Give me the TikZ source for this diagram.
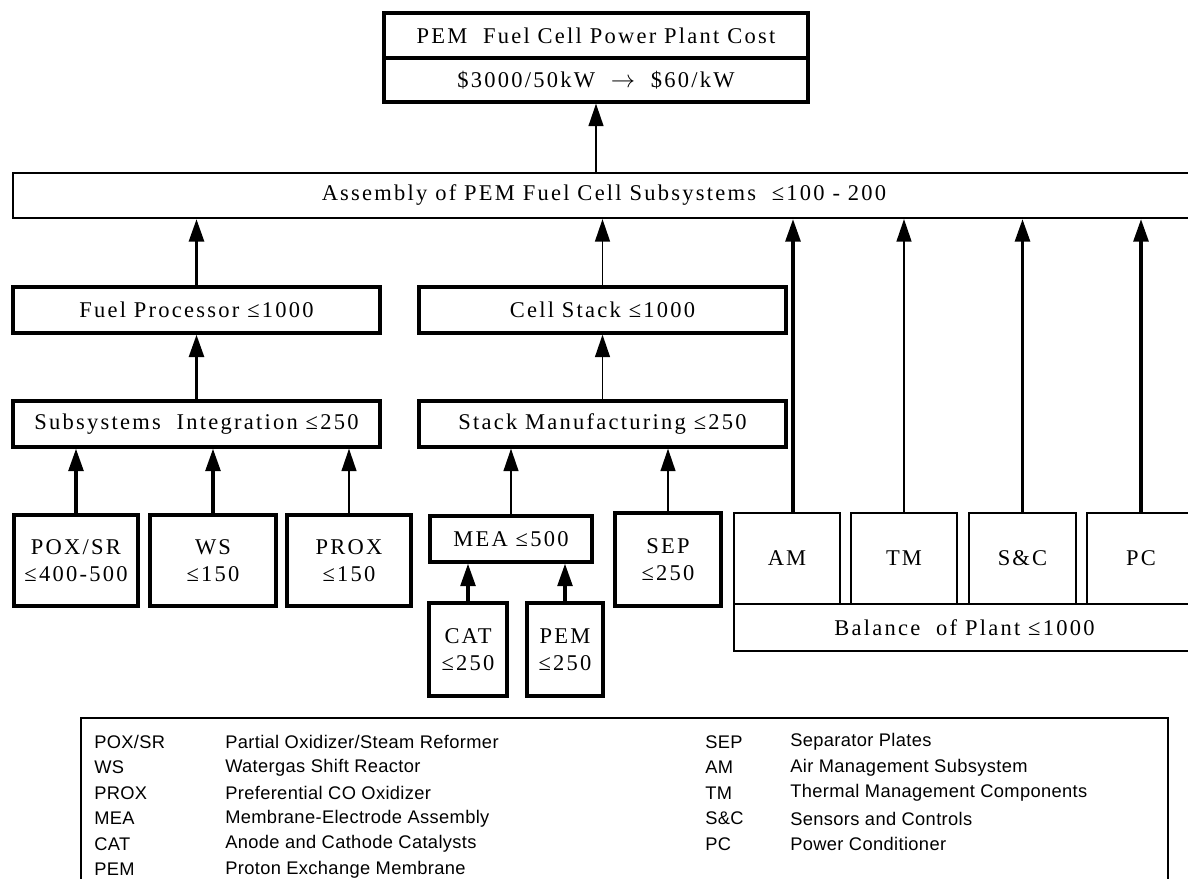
\documentclass[tikz,border=0pt]{standalone}
\usepackage{fontspec}
\setmainfont{Liberation Serif}[LetterSpace=10]
\newfontfamily\legendfont{Liberation Sans}[LetterSpace=2]
\usetikzlibrary{arrows.meta}

\begin{document}
\begin{tikzpicture}[x=0.025cm, y=-0.025cm,
	box/.style={draw, line width=2.3pt, inner sep=0pt, align=center, font=\fontsize{16}{19}\selectfont},
	thinbox/.style={box, line width=1.5pt},
	up/.style={-{Triangle[length=16pt, width=10.5pt]}, line width=2.4pt},
	thinup/.style={up, line width=1.4pt},
	legend/.style={anchor=west, inner sep=0pt, font=\legendfont\fontsize{13}{15}\selectfont}]
	\useasboundingbox (0,0) rectangle (1188,879);
	
	\node[box, minimum width=10.6cm, minimum height=1.125cm] (cost) at (596,35.5) {PEM\ \ Fuel Cell Power Plant Cost};
	\node[box, minimum width=10.6cm, minimum height=1.1cm] (costval) at (596,80) {\$3000/50kW\ \ $\rightarrow$\ \ \$60/kW};
	
	\node[thinbox, minimum width=29.55cm, minimum height=1.125cm] (asm) at (604,195.5) {Assembly of PEM Fuel Cell Subsystems\ \ ≤100 - 200};
	
	\node[box, minimum width=9.175cm, minimum height=1.15cm] (fp) at (196.5,310) {Fuel Processor ≤1000};
	\node[box, minimum width=9.175cm, minimum height=1.15cm] (cs) at (602.5,310) {Cell Stack ≤1000};
	\node[box, minimum width=9.175cm, minimum height=1.15cm] (si) at (196.5,424) {Subsystems\ \ Integration ≤250};
	\node[box, minimum width=9.175cm, minimum height=1.15cm] (sm) at (602.5,424) {Stack Manufacturing ≤250};
	
	\node[box, minimum width=3.1cm, minimum height=2.275cm] (pox) at (76,560.5) {POX/SR\\≤400-500};
	\node[box, minimum width=3.15cm, minimum height=2.275cm] (ws) at (213,560.5) {WS\\≤150};
	\node[box, minimum width=3.1cm, minimum height=2.275cm] (prox) at (349,560.5) {PROX\\≤150};
	\node[box, minimum width=4.05cm, minimum height=1.15cm] (mea) at (511,539) {MEA ≤500};
	\node[box, minimum width=2.65cm, minimum height=2.325cm] (sep) at (668,559.5) {SEP\\≤250};
	\node[box, minimum width=1.95cm, minimum height=2.325cm] (cat) at (468,649.5) {CAT\\≤250};
	\node[box, minimum width=1.9cm, minimum height=2.325cm] (pem) at (565,649.5) {PEM\\≤250};
	
	\node[thinbox, minimum width=2.65cm, minimum height=2.275cm] (am) at (787,558.5) {AM};
	\node[thinbox, minimum width=2.65cm, minimum height=2.275cm] (tm) at (904,558.5) {TM};
	\node[thinbox, minimum width=2.675cm, minimum height=2.275cm] (sc) at (1022.5,558.5) {S\&C};
	\node[thinbox, minimum width=2.7cm, minimum height=2.275cm] (pc) at (1141,558.5) {PC};
	\node[thinbox, minimum width=11.525cm, minimum height=1.175cm] (bop) at (964.5,627.5) {Balance\ \ of Plant ≤1000};
	
	\draw[thinup] (costval.south |- asm.north) -- (costval.south);
	\draw[up] (fp.north) -- (fp.north |- asm.south);
	\draw[thinup] (cs.north) -- (cs.north |- asm.south);
	\draw[up] (si.north) -- (fp.south);
	\draw[thinup] (sm.north) -- (cs.south);
	\draw[up] (pox.north) -- (pox.north |- si.south);
	\draw[up] (ws.north) -- (ws.north |- si.south);
	\draw[thinup] (prox.north) -- (prox.north |- si.south);
	\draw[thinup] (mea.north) -- (mea.north |- sm.south);
	\draw[thinup] (sep.north) -- (sep.north |- sm.south);
	\draw[up] (cat.north) -- (cat.north |- mea.south);
	\draw[up] (pem.north) -- (pem.north |- mea.south);
	\draw[up] ([xshift=0.15cm]am.north) -- ([xshift=0.15cm]am.north |- asm.south);
	\draw[thinup] (tm.north) -- (tm.north |- asm.south);
	\draw[up] (sc.north) -- (sc.north |- asm.south);
	\draw[up] (pc.north) -- (pc.north |- asm.south);
	
	% legend
	\draw[line width=1.8pt] (81,718) rectangle (1168,900);
	\foreach \y/\abbr/\desc [count=\i] in {742/{POX/SR}/{Partial Oxidizer/Steam Reformer}, 767.5/WS/Watergas Shift Reactor, 793/PROX/Preferential CO Oxidizer, 818.5/MEA/Membrane-Electrode Assembly, 844/CAT/Anode and Cathode Catalysts, 869.5/PEM/Proton Exchange Membrane}
	{
		\node[legend] (abbrL\i) at (94,\y) {\abbr};
		\node[legend] (descL\i) at (225,\y) {\desc};
	}
	\foreach \y/\abbr/\desc [count=\i] in {742/SEP/Separator Plates, 767.5/AM/Air Management Subsystem, 793/TM/Thermal Management Components, 818.5/S\&C/Sensors and Controls, 844/PC/Power Conditioner}
	{
		\node[legend] (abbrR\i) at (705,\y) {\abbr};
		\node[legend] (descR\i) at (790,\y) {\desc};
	}
\end{tikzpicture}
\end{document}
